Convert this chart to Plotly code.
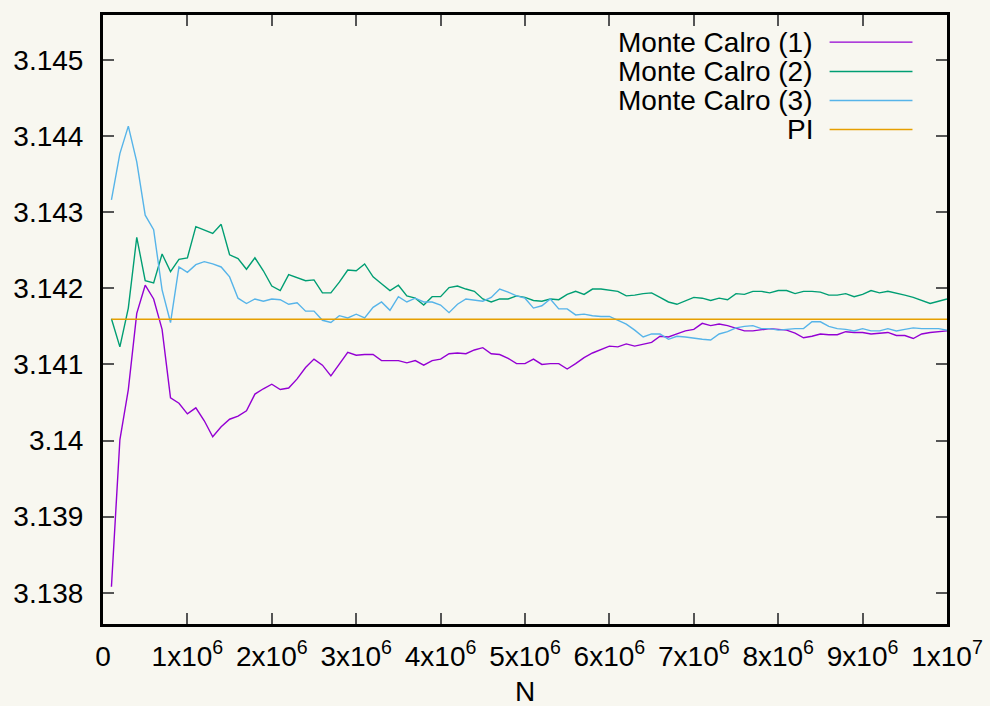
import math
import plotly.graph_objects as go

# N values (samples): 1e5 .. 1e7 in steps of 1e5
N = [k * 100000 for k in range(1, 101)]

mc1 = [3.13808, 3.14001, 3.14067, 3.14167, 3.14204, 3.14186, 3.14146, 3.14056, 3.14049, 3.14035,
       3.14043, 3.14026, 3.14005, 3.14018, 3.14028, 3.14032, 3.14039, 3.14061, 3.14068, 3.14074,
       3.14067, 3.14069, 3.14081, 3.14096, 3.14107, 3.14099, 3.14085, 3.14101, 3.14116, 3.14112,
       3.14113, 3.14113, 3.14105, 3.14105, 3.14105, 3.14102, 3.14105, 3.14099, 3.14105, 3.14107,
       3.14114, 3.14115, 3.14114, 3.14119, 3.14122, 3.14114, 3.14113, 3.14108, 3.14101, 3.14101,
       3.14107, 3.14100, 3.14101, 3.14101, 3.14094, 3.14101, 3.14109, 3.14115, 3.14120, 3.14124,
       3.14123, 3.14127, 3.14124, 3.14127, 3.14129, 3.14137, 3.14136, 3.14140, 3.14144, 3.14146,
       3.14154, 3.14151, 3.14153, 3.14151, 3.14147, 3.14144, 3.14144, 3.14146, 3.14147, 3.14146,
       3.14145, 3.14141, 3.14135, 3.14137, 3.14140, 3.14139, 3.14139, 3.14143, 3.14142, 3.14142,
       3.14140, 3.14141, 3.14142, 3.14138, 3.14138, 3.14134, 3.14140, 3.14142, 3.14143, 3.14144]

mc2 = [3.14160, 3.14123, 3.14174, 3.14267, 3.14210, 3.14207, 3.14245, 3.14222, 3.14238, 3.14240,
       3.14281, 3.14277, 3.14272, 3.14284, 3.14244, 3.14239, 3.14225, 3.14240, 3.14223, 3.14203,
       3.14197, 3.14218, 3.14214, 3.14210, 3.14211, 3.14194, 3.14194, 3.14208, 3.14224, 3.14223,
       3.14232, 3.14215, 3.14206, 3.14197, 3.14204, 3.14190, 3.14187, 3.14178, 3.14189, 3.14189,
       3.14201, 3.14203, 3.14199, 3.14196, 3.14186, 3.14182, 3.14186, 3.14186, 3.14190, 3.14188,
       3.14184, 3.14183, 3.14186, 3.14185, 3.14192, 3.14196, 3.14192, 3.14199, 3.14199, 3.14197,
       3.14196, 3.14190, 3.14191, 3.14193, 3.14194, 3.14188, 3.14182, 3.14179, 3.14184, 3.14188,
       3.14187, 3.14184, 3.14187, 3.14185, 3.14193, 3.14192, 3.14196, 3.14196, 3.14194, 3.14197,
       3.14197, 3.14193, 3.14196, 3.14196, 3.14195, 3.14191, 3.14191, 3.14193, 3.14189, 3.14192,
       3.14197, 3.14194, 3.14196, 3.14193, 3.14191, 3.14188, 3.14184, 3.14180, 3.14183, 3.14186]

mc3 = [3.14316, 3.14377, 3.14413, 3.14366, 3.14296, 3.14277, 3.14198, 3.14155, 3.14228, 3.14221,
       3.14231, 3.14235, 3.14232, 3.14228, 3.14215, 3.14187, 3.14180, 3.14186, 3.14183, 3.14186,
       3.14185, 3.14179, 3.14181, 3.14170, 3.14170, 3.14158, 3.14155, 3.14164, 3.14161, 3.14166,
       3.14161, 3.14175, 3.14182, 3.14171, 3.14189, 3.14182, 3.14187, 3.14182, 3.14182, 3.14178,
       3.14168, 3.14179, 3.14186, 3.14184, 3.14183, 3.14188, 3.14199, 3.14195, 3.14190, 3.14187,
       3.14174, 3.14177, 3.14186, 3.14173, 3.14173, 3.14165, 3.14166, 3.14164, 3.14163, 3.14163,
       3.14158, 3.14153, 3.14145, 3.14136, 3.14140, 3.14140, 3.14133, 3.14137, 3.14136, 3.14134,
       3.14133, 3.14132, 3.14140, 3.14143, 3.14148, 3.14150, 3.14151, 3.14147, 3.14147, 3.14145,
       3.14146, 3.14147, 3.14147, 3.14156, 3.14156, 3.14150, 3.14147, 3.14146, 3.14144, 3.14147,
       3.14144, 3.14144, 3.14147, 3.14144, 3.14146, 3.14148, 3.14147, 3.14147, 3.14147, 3.14145]

pi_line = [math.pi] * len(N)

series_names = ["Monte Calro (1)", "Monte Calro (2)", "Monte Calro (3)", "PI"]
series_colors = ["#9400d3", "#009e73", "#56b4e9", "#e69f00"]

y_tickvals = [3.138, 3.139, 3.140, 3.141, 3.142, 3.143, 3.144, 3.145]
y_ticktext = ["3.138", "3.139", "3.14", "3.141", "3.142", "3.143", "3.144", "3.145"]
x_tickvals = [0, 1e6, 2e6, 3e6, 4e6, 5e6, 6e6, 7e6, 8e6, 9e6, 1e7]
x_ticktext = ["0", "1x10<sup>6</sup>", "2x10<sup>6</sup>", "3x10<sup>6</sup>", "4x10<sup>6</sup>",
              "5x10<sup>6</sup>", "6x10<sup>6</sup>", "7x10<sup>6</sup>", "8x10<sup>6</sup>",
              "9x10<sup>6</sup>", "1x10<sup>7</sup>"]
x_title = "N"

FONT = "Liberation Sans, Arial, sans-serif"
FS = 28
BG = "#f8f7f0"

fig = go.Figure()
for ys, name, col in zip([mc1, mc2, mc3, pi_line], series_names, series_colors):
    fig.add_trace(go.Scatter(x=N, y=ys, mode="lines", name=name,
                             line=dict(color=col, width=1.4), showlegend=False))

# gnuplot-style legend: right-aligned text with sample line on the right
row_y = [0.9554, 0.9073, 0.8597, 0.8121]
for name, col, yy in zip(series_names, series_colors, row_y):
    fig.add_annotation(x=0.8431, y=yy, xref="paper", yref="paper", text=name,
                       showarrow=False, xanchor="right", yanchor="middle",
                       font=dict(family=FONT, size=FS, color="black"))
    fig.add_shape(type="line", xref="paper", yref="paper", x0=0.8609, x1=0.9591,
                  y0=yy, y1=yy, line=dict(color=col, width=1.4))

# x-axis title
fig.add_annotation(x=0.5, y=-0.1115, xref="paper", yref="paper", text=x_title,
                   showarrow=False, xanchor="center", yanchor="middle", borderpad=0,
                   font=dict(family=FONT, size=FS, color="black"))

axis_common = dict(showline=True, linecolor="black", linewidth=3, mirror="allticks",
                   ticks="inside", ticklen=11, tickwidth=1.5, tickcolor="#555",
                   showgrid=False, zeroline=False,
                   tickfont=dict(family=FONT, size=FS, color="black"))

fig.update_layout(
    width=990, height=706,
    margin=dict(l=103, r=42.5, t=14.5, b=82),
    paper_bgcolor=BG, plot_bgcolor=BG,
    font=dict(family=FONT, size=FS, color="black"),
    xaxis=dict(range=[0, 1e7], tickvals=x_tickvals, ticktext=x_ticktext,
               automargin=False, ticklabelstandoff=5, **axis_common),
    yaxis=dict(range=[3.13759, 3.14559], tickvals=y_tickvals, ticktext=y_ticktext,
               automargin=False, ticklabelstandoff=11, **axis_common),
)

fig.write_html("out.html", config={"displayModeBar": False},
               post_script="document.body.style.margin='0';document.body.style.background='%s';" % BG)
